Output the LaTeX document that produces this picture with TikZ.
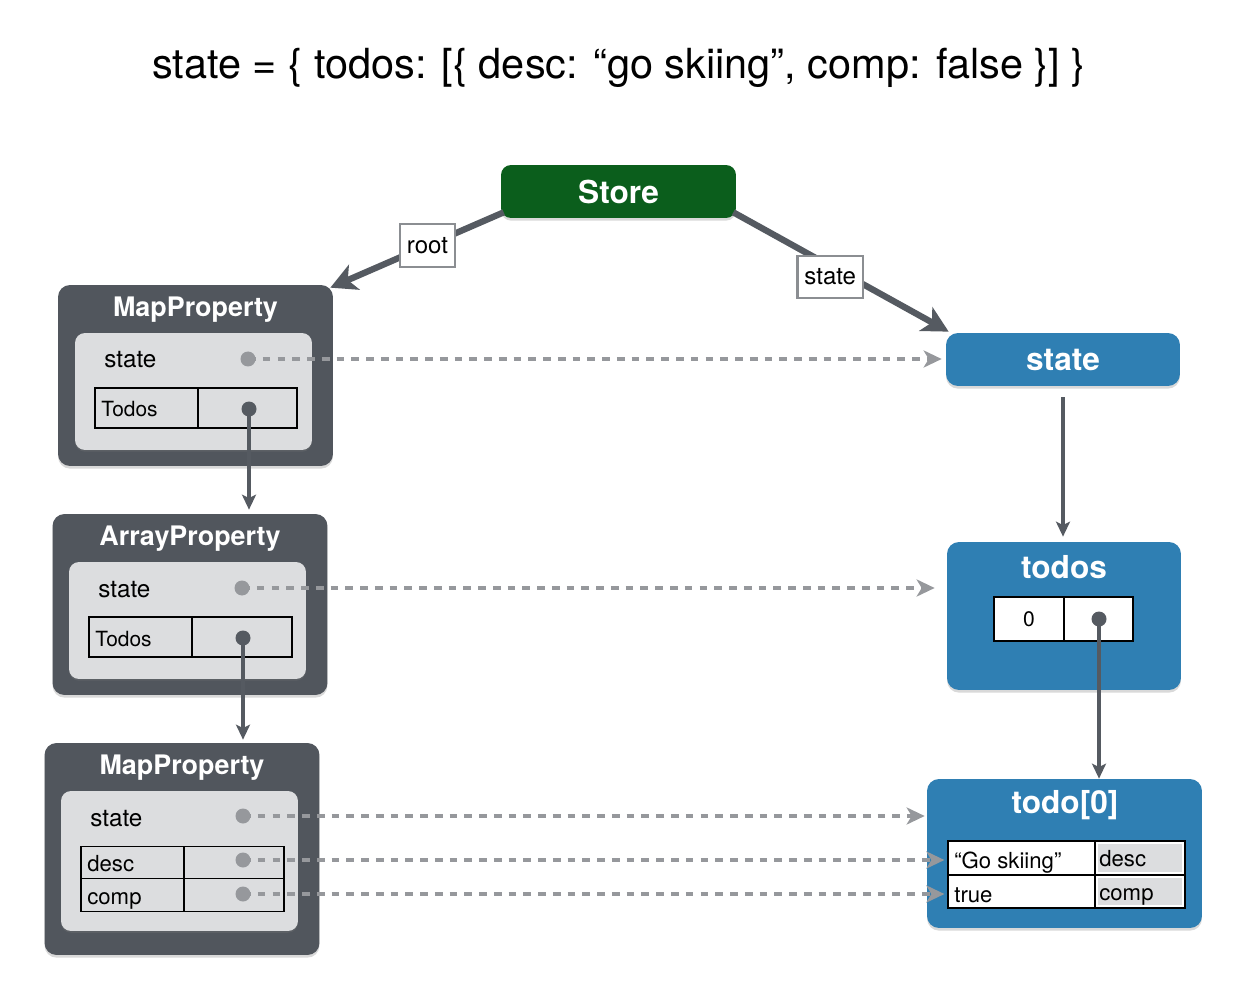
\documentclass[tikz,border=0pt]{standalone}
\usepackage{fontspec}
\setmainfont{TeX Gyre Heros}
\usetikzlibrary{positioning}
\usetikzlibrary{arrows.meta}
\usetikzlibrary{shadows}
\definecolor{slate}{RGB}{81,86,93}
\definecolor{cloud}{RGB}{220,221,223}
\definecolor{forest}{RGB}{11,94,28}
\definecolor{ocean}{RGB}{47,127,179}
\definecolor{ash}{RGB}{150,152,156}
\definecolor{ink}{RGB}{85,90,97}
\definecolor{lblgray}{RGB}{139,142,146}

\begin{document}
\begin{tikzpicture}[x=0.02cm, y=-0.02cm,
	propbox/.style={rectangle, rounded corners=0.24cm, fill=slate, minimum width=5.5cm, minimum height=3.62cm, drop shadow={opacity=.3, shadow xshift=0pt, shadow yshift=-1.5pt}},
	inbox/.style={rectangle, rounded corners=0.2cm, fill=cloud, minimum width=4.74cm, minimum height=2.34cm, drop shadow={opacity=.25, shadow xshift=0pt, shadow yshift=-1pt}},
	valbox/.style={rectangle, rounded corners=0.24cm, fill=ocean, minimum width=4.68cm, drop shadow={opacity=.3, shadow xshift=0pt, shadow yshift=-1.5pt}},
	cell/.style={rectangle, draw=black, line width=0.7pt, minimum height=0.8cm, inner sep=0pt},
	ptitle/.style={text=white, font=\bfseries\fontsize{15.3}{18}\selectfont, anchor=base, inner sep=0pt},
	vtitle/.style={text=white, font=\bfseries\fontsize{18}{21}\selectfont, anchor=base, inner sep=0pt},
	ftxt/.style={anchor=base west, inner sep=0pt, font=\fontsize{13.8}{16}\selectfont},
	ctxt/.style={anchor=base west, inner sep=0pt, font=\fontsize{12.6}{15}\selectfont},
	ptrdot/.style={circle, minimum size=0.3cm, inner sep=0pt},
	lbl/.style={rectangle, fill=white, draw=lblgray, line width=1.3pt, minimum height=0.85cm, inner xsep=4pt, font=\fontsize{13.7}{16}\selectfont},
	bigarrow/.style={draw=ink, line width=3.6pt, -{Stealth[length=0.52cm,width=0.54cm,inset=0.14cm]}},
	link/.style={draw=ink, line width=2.2pt, -{Stealth[length=0.3cm,width=0.28cm,inset=0.07cm]}},
	refline/.style={draw=ash, line width=2.8pt, dash pattern=on 4.4pt off 4pt, -{Stealth[length=0.36cm,width=0.34cm,inset=0.1cm]}}]
	\useasboundingbox (0,0) rectangle (1250,989);
	\node[font=\fontsize{23.6}{28}\selectfont](title) at (619,68){state = \{ todos: [\{ desc: “go skiing”, comp: false \}] \}};

	\node[rectangle, rounded corners=0.2cm, fill=forest, minimum width=4.7cm, minimum height=1.06cm, text=white, font=\bfseries\fontsize{18}{21}\selectfont, drop shadow={opacity=.3, shadow xshift=0pt, shadow yshift=-1.5pt}](store) at (618.5,191.5){Store};

	% left column: property objects
	\node[propbox](mp1) at (195.5,375.5){};
	\node[ptitle] at (195.5,316.5){MapProperty};
	\node[inbox](mp1in) at (193.5,391.5){};
	\node[ftxt] at (104,368){state};
	\node[ptrdot, fill=ash](mp1st) at (248,359){};
	\node[cell, minimum width=2.06cm](mp1key) at (146.5,408){};
	\node[cell, minimum width=1.98cm](mp1val) at (247.5,408){};
	\node[ctxt, font=\fontsize{11.9}{14}\selectfont] at (101,417){Todos};
	\node[ptrdot, fill=ink](mp1ptr) at (249,409){};

	\node[propbox](ap) at (190,604.5){};
	\node[ptitle] at (190,545.5){ArrayProperty};
	\node[inbox](apin) at (187.5,620.5){};
	\node[ftxt] at (98,597){state};
	\node[ptrdot, fill=ash](apst) at (242,588){};
	\node[cell, minimum width=2.06cm](apkey) at (140.5,637){};
	\node[cell, minimum width=2cm](apval) at (242,637){};
	\node[ctxt, font=\fontsize{11.9}{14}\selectfont] at (95,646){Todos};
	\node[ptrdot, fill=ink](apptr) at (243,638){};

	\node[propbox, minimum height=4.24cm](mp2) at (182,849){};
	\node[ptitle] at (182,774.5){MapProperty};
	\node[inbox, minimum height=2.8cm](mp2in) at (179.5,861){};
	\node[ftxt] at (90,826){state};
	\node[ptrdot, fill=ash](mp2st) at (243,816){};
	\node[cell, minimum width=2.06cm, minimum height=0.65cm](mp2k1) at (132.5,862.5){};
	\node[cell, minimum width=2cm, minimum height=0.65cm](mp2v1) at (234,862.5){};
	\node[cell, minimum width=2.06cm, minimum height=0.65cm](mp2k2) at (132.5,895){};
	\node[cell, minimum width=2cm, minimum height=0.65cm](mp2v2) at (234,895){};
	\node[ctxt] at (87,871){desc};
	\node[ctxt] at (87,904){comp};
	\node[ptrdot, fill=ash](mp2desc) at (243,860){};
	\node[ptrdot, fill=ash](mp2comp) at (243,894){};

	% right column: state tree
	\node[valbox, minimum height=1.06cm, text=white, font=\bfseries\fontsize{18}{21}\selectfont](stateb) at (1063,359.5){state};

	\node[valbox, minimum height=2.96cm](todosb) at (1064,616){};
	\node[vtitle] at (1064,578){todos};
	\node[cell, fill=white, minimum width=1.4cm, minimum height=0.88cm, font=\fontsize{12}{14}\selectfont](tdkey) at (1029,619){0};
	\node[cell, fill=white, minimum width=1.38cm, minimum height=0.88cm](tdval) at (1098.5,619){};
	\node[ptrdot, fill=ink](todosptr) at (1099,619){};

	\node[valbox, minimum width=5.5cm, minimum height=2.98cm](todo0) at (1064.5,853.5){};
	\node[vtitle] at (1065,813.5){todo[0]};
	\node[cell, fill=white, minimum width=2.94cm, minimum height=0.68cm](t0go) at (1021.5,858){};
	\node[cell, fill=white, minimum width=1.8cm, minimum height=0.68cm](t0desc) at (1140,858){};
	\node[cell, fill=white, minimum width=2.94cm, minimum height=0.66cm](t0true) at (1021.5,891.5){};
	\node[cell, fill=white, minimum width=1.8cm, minimum height=0.66cm](t0comp) at (1140,891.5){};
	\node[fill=cloud, minimum width=1.68cm, minimum height=0.56cm, inner sep=0pt] at (t0desc){};
	\node[fill=cloud, minimum width=1.68cm, minimum height=0.54cm, inner sep=0pt] at (t0comp){};
	\node[ctxt] at (954,868){“Go skiing”};
	\node[ctxt] at (1099,866){desc};
	\node[ctxt] at (954,902){true};
	\node[ctxt] at (1099,900){comp};

	% connectors
	\draw[bigarrow] ([shift={(3,-6)}]store.south west) -- node[lbl, pos=.44]{root} ([shift={(-3,3)}]mp1.north east);
	\draw[bigarrow] ([shift={(-3,-6)}]store.south east) -- node[lbl, pos=.45, yshift=-0.22cm]{state} ([shift={(3,-1)}]stateb.north west);

	\draw[link, shorten >=0.08cm] (mp1ptr.center) -- (mp1ptr |- ap.north);
	\draw[link, shorten >=0.06cm] (apptr.center) -- (apptr |- mp2.north);
	\draw[link, shorten <=0.22cm, shorten >=0.1cm] (stateb.south) -- (stateb.south |- todosb.north);
	\draw[link] (todosptr.center) -- (todosptr |- todo0.north);

	\draw[refline, shorten >=0.08cm] (mp1st.center) -- (mp1st -| stateb.west);
	\draw[refline, shorten >=0.24cm] (apst.center) -- (apst -| todosb.west);
	\draw[refline, shorten >=0.04cm] (mp2st.center) -- (mp2st -| todo0.west);
	\draw[refline, shorten >=0.06cm] (mp2desc.center) -- (mp2desc -| t0go.west);
	\draw[refline, shorten >=0.06cm] (mp2comp.center) -- (mp2comp -| t0true.west);
\end{tikzpicture}
\end{document}
